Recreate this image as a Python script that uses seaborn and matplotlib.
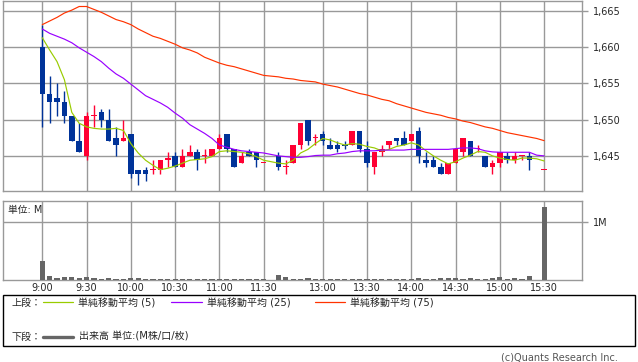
import numpy as np
import pandas as pd
import seaborn as sns
import matplotlib
matplotlib.use("Agg")
import matplotlib.pyplot as plt
from matplotlib.lines import Line2D
from matplotlib.patches import Rectangle
from matplotlib.ticker import FuncFormatter

# 5-minute slots: morning 9:00-11:30, one blank slot for lunch, afternoon 12:30-15:30
def build_slots():
    times = []
    for m in range(9 * 60, 11 * 60 + 31, 5):
        times.append(f"{m // 60}:{m % 60:02d}")
    times.append("")
    for m in range(12 * 60 + 30, 15 * 60 + 31, 5):
        times.append(f"{m // 60}:{m % 60:02d}")
    return times

slot_times = build_slots()
tick_labels = ["9:00", "9:30", "10:00", "10:30", "11:00", "11:30",
               "13:00", "13:30", "14:00", "14:30", "15:00", "15:30"]

N = None
opens = [1660, 1653.5, 1653, 1652.5, 1650.5, 1647, 1645, 1650.5, 1651, 1650,
         1647.5, 1647, 1648, 1643, 1643, 1643, 1643, 1644.5, 1645, 1643.5,
         1645, 1645.5, 1645, 1645, 1646, 1648, 1646, 1644, 1645.5, 1645.5,
         1644, N, 1645, 1643.5, 1644, 1646.5, 1650, 1647.5, 1648, 1646.5,
         1646.5, 1646.5, 1646.5, 1648.5, 1646, 1643.5, 1645.5, 1646.5, 1647.5, 1647.5,
         1647, 1648.5, 1644.5, 1644.5, 1643.5, 1642.5, 1644, 1645.5, 1647, 1646,
         1645, 1643.5, 1644, 1645, 1644.5, 1645, 1645, N, 1643]
highs = [1663, 1656, 1655, 1654, 1650.5, 1649.5, 1651, 1652, 1651.5, 1651.5,
         1649, 1650, 1648, 1643, 1643.5, 1644.5, 1644.5, 1645.5, 1645.5, 1646,
         1646.5, 1646, 1646, 1646, 1648, 1648, 1646, 1645.5, 1646, 1645.5,
         1644, N, 1645.5, 1644.5, 1646.5, 1649.5, 1650, 1648, 1648.5, 1647.5,
         1647, 1647, 1648.5, 1648.5, 1647, 1645.5, 1646.5, 1647, 1647.5, 1648.5,
         1648, 1649, 1645.5, 1645, 1644, 1644, 1646, 1647.5, 1647, 1646.5,
         1645, 1644.5, 1645.5, 1645.5, 1645.5, 1645, 1645.5, N, 1643]
lows = [1649, 1649.5, 1650.5, 1649.5, 1647, 1645.5, 1644.5, 1649, 1649, 1647,
        1645, 1647, 1642, 1641, 1641.5, 1642.5, 1642.5, 1643.5, 1643.5, 1643.5,
        1645, 1643, 1644, 1645, 1646, 1645.5, 1643.5, 1644, 1645, 1643.5,
        1644, N, 1643, 1642.5, 1644, 1646, 1646.5, 1646.5, 1646.5, 1646,
        1645.5, 1646, 1646.5, 1645.5, 1643.5, 1642.5, 1645, 1646, 1646.5, 1646.5,
        1647, 1644, 1643.5, 1643.5, 1642.5, 1642.5, 1644, 1645, 1645, 1645.5,
        1643.5, 1642.5, 1643.5, 1644, 1644, 1644.5, 1643, N, 1643]
closes = [1653.5, 1652.5, 1652.5, 1650.5, 1647, 1645.5, 1650.5, 1650.5, 1650, 1647,
          1646.5, 1647.5, 1642.5, 1642.5, 1642.5, 1643, 1644.5, 1644.5, 1643.5, 1645,
          1645.5, 1644.5, 1645, 1646, 1647.5, 1646, 1643.5, 1645, 1645, 1644.5,
          1644, N, 1643.5, 1643.5, 1646.5, 1649.5, 1647, 1647.5, 1647, 1646,
          1646, 1646.3, 1648.5, 1646, 1644, 1645.5, 1646, 1647, 1647, 1646.5,
          1648, 1645, 1644, 1643.5, 1642.5, 1644, 1646, 1647.5, 1645, 1646,
          1643.5, 1644, 1645.5, 1644.5, 1645, 1645, 1644.5, N, 1643]
# volume in millions
volume = [0.326, 0.069, 0.04, 0.052, 0.052, 0.04, 0.052, 0.04, 0.015, 0.04,
          0.025, 0.025, 0.04, 0.04, 0.025, 0.025, 0.025, 0.025, 0.025, 0.015,
          0.015, 0.025, 0.025, 0.015, 0.025, 0.025, 0.025, 0.025, 0.015, 0.025,
          0.015, N, 0.086, 0.052, 0.015, 0.025, 0.04, 0.025, 0.015, 0.025,
          0.025, 0.015, 0.025, 0.025, 0.025, 0.025, 0.015, 0.025, 0.015, 0.025,
          0.025, 0.04, 0.025, 0.025, 0.04, 0.04, 0.04, 0.025, 0.04, 0.025,
          0.025, 0.04, 0.052, 0.025, 0.04, 0.025, 0.069, N, 1.257]
ma5 = [1661.3, 1659.6, 1658.0, 1655.5, 1651.0, 1649.5, 1649.0, 1648.8, 1648.7, 1648.7,
       1648.8, 1648.5, 1646.7, 1645.4, 1644.4, 1643.7, 1643.1, 1643.3, 1643.6, 1644.0,
       1644.4, 1644.5, 1644.6, 1644.9, 1645.6, 1645.7, 1645.6, 1645.5, 1645.3, 1644.9,
       1644.4, N, 1644.0, 1643.9, 1644.4, 1645.4, 1645.9, 1646.7, 1647.4, 1647.2,
       1646.8, 1646.5, 1646.7, 1646.6, 1646.3, 1646.1, 1645.7, 1645.9, 1646.3, 1646.5,
       1646.8, 1646.5, 1645.7, 1645.0, 1644.4, 1643.9, 1644.2, 1644.7, 1645.1, 1645.6,
       1645.5, 1645.0, 1644.7, 1644.5, 1644.4, 1644.7, 1644.7, 1644.6, 1644.3]
ma25 = [1662.5, 1661.9, 1661.5, 1661.1, 1660.6, 1659.9, 1659.3, 1658.7, 1658.0, 1657.1,
        1656.3, 1655.7, 1654.9, 1654.1, 1653.3, 1652.8, 1652.3, 1651.7, 1650.9, 1650.2,
        1649.3, 1648.7, 1648.1, 1647.4, 1646.5, 1646.2, 1645.9, 1645.7, 1645.6, 1645.5,
        1645.4, N, 1645.0, 1644.9, 1644.8, 1644.8, 1644.9, 1645.05, 1645.1, 1645.1,
        1645.3, 1645.4, 1645.6, 1645.7, 1645.7, 1645.7, 1645.8, 1645.8, 1645.8, 1645.8,
        1645.9, 1645.9, 1645.9, 1645.9, 1645.9, 1645.9, 1646.0, 1646.1, 1646.1, 1646.0,
        1645.7, 1645.55, 1645.5, 1645.5, 1645.5, 1645.5, 1645.5, 1645.1, 1645.0]
ma75 = [1663.1, 1663.6, 1664.1, 1664.7, 1665.1, 1665.6, 1665.6, 1665.2, 1664.8, 1664.3,
        1663.8, 1663.5, 1663.1, 1662.5, 1662.0, 1661.5, 1661.2, 1660.8, 1660.4, 1659.9,
        1659.6, 1659.2, 1658.6, 1658.2, 1657.8, 1657.5, 1657.3, 1657.0, 1656.7, 1656.4,
        1656.1, N, 1655.9, 1655.7, 1655.6, 1655.4, 1655.3, 1655.2, 1654.9, 1654.7,
        1654.5, 1654.2, 1653.9, 1653.6, 1653.4, 1653.1, 1652.8, 1652.6, 1652.2, 1651.9,
        1651.6, 1651.3, 1651.0, 1650.8, 1650.6, 1650.3, 1650.1, 1649.8, 1649.6, 1649.3,
        1649.0, 1648.8, 1648.5, 1648.2, 1648.0, 1647.8, 1647.6, 1647.4, 1647.1]

UP = "#FF0033"
DOWN = "#003399"
GRID = "#999999"
W, H = 638, 362

def fx(px):
    return px / W

def fy(py):
    return 1 - py / H

sns.set_style("white")
plt.rcParams["font.family"] = ["DejaVu Sans", "Noto Sans CJK JP"]

df = pd.DataFrame({"slot": np.arange(len(slot_times)),
                   "open": pd.array(opens, dtype="Float64").astype(float),
                   "high": pd.array(highs, dtype="Float64").astype(float),
                   "low": pd.array(lows, dtype="Float64").astype(float),
                   "close": pd.array(closes, dtype="Float64").astype(float),
                   "volume": pd.array(volume, dtype="Float64").astype(float),
                   "ma5": pd.array(ma5, dtype="Float64").astype(float),
                   "ma25": pd.array(ma25, dtype="Float64").astype(float),
                   "ma75": pd.array(ma75, dtype="Float64").astype(float)})
tick_pos = [slot_times.index(t) for t in tick_labels]
xlim = (-5.28, 73.17)

fig = plt.figure(figsize=(W / 100, H / 100), dpi=100)

# ---- price panel ----
ax = fig.add_axes([fx(3.3), fy(190.7), fx(582.3) - fx(3.3), fy(0.7) - fy(190.7)])
ax.set_axisbelow(True)
c = df.dropna(subset=["open"])
up = c["close"] >= c["open"]
colors = np.where(up, UP, DOWN)
ax.vlines(c["slot"], c["low"], c["high"], colors=colors, lw=1.0, zorder=3)
body_lo = np.minimum(c["open"], c["close"])
body_h = np.maximum((c["close"] - c["open"]).abs(), 0.15)
ax.bar(c["slot"], body_h, bottom=body_lo, width=0.75, color=colors, lw=0, zorder=4)

for col, color in [("ma5", "#99CC00"), ("ma25", "#9900FF"), ("ma75", "#FF3300")]:
    sns.lineplot(data=df.dropna(subset=[col]), x="slot", y=col, color=color,
                 lw=0.85, ax=ax, zorder=5)

ax.set_xlim(*xlim)
ax.set_ylim(1640.2, 1666.4)
ax.set_xticks(tick_pos)
ax.set_yticks([1645, 1650, 1655, 1660, 1665])
ax.yaxis.tick_right()
ax.yaxis.set_major_formatter(FuncFormatter(lambda v, p: f"{v:,.0f}"))
ax.tick_params(axis="x", length=0, labelbottom=False)
ax.tick_params(axis="y", length=4, width=1, color=GRID, labelsize=7, pad=4)
ax.grid(True, color=GRID, lw=1)
ax.set_xlabel("")
ax.set_ylabel("")
for s in ax.spines.values():
    s.set_color(GRID)
    s.set_linewidth(1)

# ---- volume panel ----
axv = fig.add_axes([fx(3.3), fy(280), fx(582.3) - fx(3.3), fy(201) - fy(280)])
axv.set_axisbelow(True)
v = df.dropna(subset=["volume"])
axv.bar(v["slot"], v["volume"], width=0.7, color="#666666", lw=0, zorder=3)
axv.set_xlim(*xlim)
axv.set_ylim(0, 1.355)
axv.set_xticks(tick_pos)
axv.set_xticklabels(tick_labels)
axv.set_yticks([1])
axv.set_yticklabels(["1M"])
axv.yaxis.tick_right()
axv.tick_params(axis="x", length=0, labelsize=7, pad=2)
axv.tick_params(axis="y", length=4, width=1, color=GRID, labelsize=7, pad=4)
axv.grid(True, color=GRID, lw=1)
for s in axv.spines.values():
    s.set_color(GRID)
    s.set_linewidth(1)
axv.spines["bottom"].set_zorder(1)
fig.text(fx(8.3), fy(210), "単位: M", fontsize=7, va="center", ha="left")

# ---- legend box ----
fig.patches.append(Rectangle((fx(3.3), fy(346)), fx(635.3) - fx(3.3), fy(295) - fy(346),
                             transform=fig.transFigure, fill=False, ec="black", lw=1))
ly1, ly2 = 303.3, 336.7
fs = 7.2
fig.text(fx(11.7), fy(ly1), "上段：", fontsize=fs, va="center")
for x0, x1, tx, color, label in [(42.7, 73.3, 78.3, "#99CC00", "単純移動平均 (5)"),
                                 (171, 201.7, 206.7, "#9900FF", "単純移動平均 (25)"),
                                 (315, 344.7, 350.3, "#FF3300", "単純移動平均 (75)")]:
    fig.lines.append(Line2D([fx(x0), fx(x1)], [fy(ly1 - 1), fy(ly1 - 1)],
                            transform=fig.transFigure, color=color, lw=0.9))
    fig.text(fx(tx), fy(ly1), label, fontsize=fs, va="center")
fig.text(fx(11.7), fy(ly2), "下段：", fontsize=fs, va="center")
fig.lines.append(Line2D([fx(42.7), fx(73.3)], [fy(ly2), fy(ly2)],
                        transform=fig.transFigure, color="#666666", lw=2.4))
fig.text(fx(79), fy(ly2), "出来高 単位:(M株/口/枚)", fontsize=fs, va="center")

fig.text(fx(618), fy(357), "(c)Quants Research Inc.", fontsize=7, color="#555555",
         ha="right", va="center")

fig.savefig("out.png", dpi=100)
